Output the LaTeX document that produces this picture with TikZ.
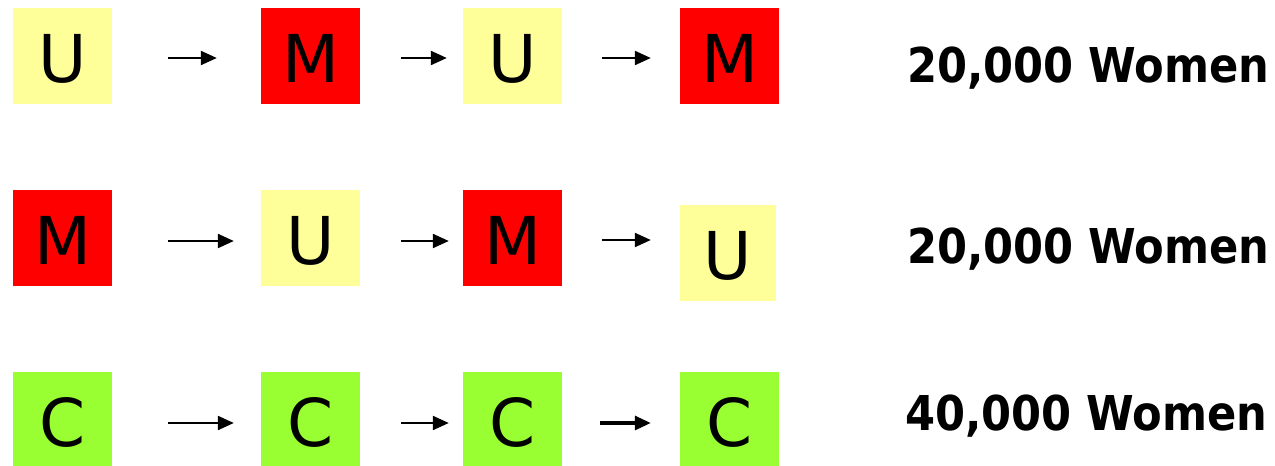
\documentclass[tikz,border=0pt]{standalone}
\usepackage{fontspec}
\setmainfont{DejaVu Sans}
\newfontfamily\countfont{DejaVu Sans Condensed}
\usetikzlibrary{arrows.meta}
\definecolor{uyellow}{RGB}{255,255,153}
\definecolor{mred}{RGB}{255,0,0}
\definecolor{cgreen}{RGB}{153,255,51}
\tikzset{
  state/.style={minimum width=99pt, minimum height=96pt, inner sep=0pt,
    font=\fontsize{66}{66}\selectfont, text height=52pt, text depth=0pt},
  ustate/.style={state, fill=uyellow},
  mstate/.style={state, fill=mred},
  cstate/.style={state, fill=cgreen},
  arr/.style={line width=2.2pt, -{Triangle[length=16pt 0,width=14pt 0]}},
  count/.style={anchor=base west, inner sep=0pt,
    font=\countfont\bfseries\fontsize{48}{48}\selectfont}
}
\begin{document}
\begin{tikzpicture}[x=1pt,y=-1pt]
\useasboundingbox (0,0) rectangle (1275,466);

% first sequence
\node[ustate] (r1a) at (62.5,56) {U};
\node[mstate] (r1b) at (310.5,56) {M};
\node[ustate] (r1c) at (512.5,56) {U};
\node[mstate] (r1d) at (729.5,56) {M};
\draw[arr] ([xshift=56pt,yshift=-2pt]r1a.east) -- ([xshift=-44pt,yshift=-2pt]r1b.west);
\draw[arr] ([xshift=41pt,yshift=-2pt]r1b.east) -- ([xshift=-16pt,yshift=-2pt]r1c.west);
\draw[arr] ([xshift=40pt,yshift=-2pt]r1c.east) -- ([xshift=-29pt,yshift=-2pt]r1d.west);
\node[count] (n1) at (907,82) {20,000 Women};

% second sequence
\node[mstate] (r2a) at (62.5,238) {M};
\node[ustate] (r2b) at (310.5,238) {U};
\node[mstate] (r2c) at (512.5,238) {M};
\node[ustate, minimum width=96pt] (r2d) at (728,253) {U};
\draw[arr] ([xshift=56pt,yshift=-3pt]r2a.east) -- ([xshift=-27pt,yshift=-3pt]r2b.west);
\draw[arr] ([xshift=41pt,yshift=-3pt]r2b.east) -- ([xshift=-14pt,yshift=-3pt]r2c.west);
\draw[arr] ([xshift=40pt,yshift=-2pt]r2c.east) -- ([xshift=-29pt,yshift=-2pt]r2c.east -| r2d.west);
\node[count] (n2) at (907,263) {20,000 Women};

% third sequence
\node[cstate] (r3a) at (62.5,420) {C};
\node[cstate] (r3b) at (310.5,420) {C};
\node[cstate] (r3c) at (512.5,420) {C};
\node[cstate] (r3d) at (729.5,420) {C};
\draw[arr] ([xshift=56pt,yshift=-3pt]r3a.east) -- ([xshift=-27pt,yshift=-3pt]r3b.west);
\draw[arr] ([xshift=41pt,yshift=-3pt]r3b.east) -- ([xshift=-14pt,yshift=-3pt]r3c.west);
\draw[arr, line width=3.2pt] ([xshift=38pt,yshift=-3pt]r3c.east) -- ([xshift=-29pt,yshift=-3pt]r3d.west);
\node[count] (n3) at (905,430) {40,000 Women};
\end{tikzpicture}
\end{document}
